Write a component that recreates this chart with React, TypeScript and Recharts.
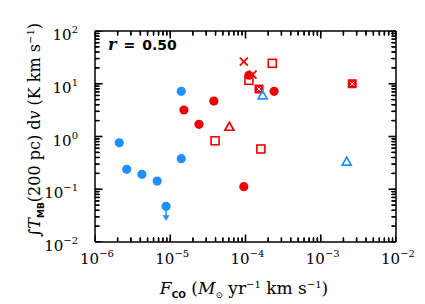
import { ScatterChart, Scatter, XAxis, YAxis } from 'recharts';

const RED = '#f00000';
const BLUE = '#1e90ff';
const SERIF = '"DejaVu Serif", serif';
const SANS = '"DejaVu Sans", sans-serif';

// values (log-log)
const blueCircleX = [2.1e-6, 2.64e-6, 4.2e-6, 6.7e-6, 1.4e-5, 1.4e-5];
const blueCircleY = [0.76, 0.239, 0.192, 0.143, 7.2, 0.38];
const blueLimitX = [8.8e-6];
const blueLimitY = [0.0475];
const redCircleX = [1.52e-5, 2.41e-5, 3.8e-5, 9.5e-5, 1.11e-4, 2.4e-4];
const redCircleY = [3.18, 1.7, 4.7, 0.112, 14.5, 7.2];
const redSquareX = [3.94e-5, 1.11e-4, 2.27e-4, 1.6e-4];
const redSquareY = [0.83, 11.6, 24.4, 0.58];
const redCrossX = [9.5e-5, 1.24e-4];
const redCrossY = [26.2, 14.9];
const redBoxX = [1.51e-4, 2.62e-3];
const redBoxY = [7.95, 10];
const redTriX = [6.1e-5];
const redTriY = [1.53];
const blueTriX = [1.69e-4, 2.21e-3];
const blueTriY = [6.0, 0.333];

const xMajor = [-6, -5, -4, -3, -2];
const yMajor = [-2, -1, 0, 1, 2];
const xDomain = [1e-6, 1e-2];
const yDomain = [1e-2, 1e2];

const zip = (xs: number[], ys: number[]) => xs.map((x, i) => ({ x, y: ys[i] }));

// major + minor (2..9) log ticks
const logTicks = (exps: number[]) => {
  const out: number[] = [];
  exps.forEach((e, i) => {
    out.push(Math.pow(10, e));
    if (i < exps.length - 1) for (let m = 2; m <= 9; m++) out.push(m * Math.pow(10, e));
  });
  return out;
};
const xTicks = logTicks(xMajor);
const yTicks = logTicks(yMajor);

const isMajor = (v: number) => Math.abs(Math.log10(v) - Math.round(Math.log10(v))) < 1e-6;
const expLabel = (v: number) => {
  const e = Math.round(Math.log10(v));
  return e < 0 ? '\u2212' + -e : String(e);
};

// tick marks drawn as scatter points sitting on the frame
const bottomMarks = xTicks.map((v) => ({ x: v, y: yDomain[0], major: isMajor(v), dir: 'up' }));
const topMarks = xTicks.map((v) => ({ x: v, y: yDomain[1], major: isMajor(v), dir: 'down' }));
const leftMarks = yTicks.map((v) => ({ x: xDomain[0], y: v, major: isMajor(v), dir: 'right' }));
const rightMarks = yTicks.map((v) => ({ x: xDomain[1], y: v, major: isMajor(v), dir: 'left' }));

const TickMark = (p: any) => {
  const d = p.payload ?? p;
  const len = d.major ? 7.5 : 4;
  const dx = d.dir === 'right' ? len : d.dir === 'left' ? -len : 0;
  const dy = d.dir === 'up' ? -len : d.dir === 'down' ? len : 0;
  return <line x1={p.cx} y1={p.cy} x2={p.cx + dx} y2={p.cy + dy} stroke="#000" strokeWidth={1.6} />;
};

function XLabel(props: any) {
  const x = Number(props.x);
  const y = Number(props.y);
  if (!isMajor(props.payload.value)) return <g />;
  return (
    <text x={x + 2} y={y + 22} textAnchor="middle" fontFamily={SERIF} fontSize={15} fill="#000">
      <tspan>10</tspan>
      <tspan dy={-7} fontSize={10}>{expLabel(props.payload.value)}</tspan>
    </text>
  );
}

function YLabel(props: any) {
  const x = Number(props.x);
  const y = Number(props.y);
  if (!isMajor(props.payload.value)) return <g />;
  return (
    <text x={x - 17} y={y + 9} textAnchor="end" fontFamily={SERIF} fontSize={15} fill="#000">
      <tspan>10</tspan>
      <tspan dy={-7} fontSize={10}>{expLabel(props.payload.value)}</tspan>
    </text>
  );
}

const Dot = (color: string) => (p: any) => <circle cx={p.cx} cy={p.cy} r={4.6} fill={color} />;

const LimitDot = (p: any) => (
  <g>
    <circle cx={p.cx} cy={p.cy} r={4.6} fill={BLUE} />
    <line x1={p.cx} y1={p.cy} x2={p.cx} y2={p.cy + 11} stroke={BLUE} strokeWidth={1.5} />
    <path d={`M${p.cx - 3.5},${p.cy + 9} L${p.cx + 3.5},${p.cy + 9} L${p.cx},${p.cy + 14.5} Z`} fill={BLUE} />
  </g>
);

const OpenSquare = (p: any) => (
  <rect x={p.cx - 4} y={p.cy - 4} width={8} height={8} fill="none" stroke={RED} strokeWidth={1.6} />
);

const Cross = (p: any) => (
  <path
    d={`M${p.cx - 4},${p.cy - 4} L${p.cx + 4},${p.cy + 4} M${p.cx - 4},${p.cy + 4} L${p.cx + 4},${p.cy - 4}`}
    stroke={RED}
    strokeWidth={1.8}
  />
);

const BoxedCross = (p: any) => (
  <g>
    <rect x={p.cx - 4.5} y={p.cy - 4.5} width={9} height={9} fill={RED} />
    <path
      d={`M${p.cx - 2},${p.cy - 2} L${p.cx + 2},${p.cy + 2} M${p.cx - 2},${p.cy + 2} L${p.cx + 2},${p.cy - 2}`}
      stroke="#fff"
      strokeWidth={1}
    />
  </g>
);

const Tri = (color: string) => (p: any) => (
  <path
    d={`M${p.cx},${p.cy - 4.5} L${p.cx + 4.5},${p.cy + 3.5} L${p.cx - 4.5},${p.cy + 3.5} Z`}
    fill="none"
    stroke={color}
    strokeWidth={1.7}
  />
);

const Hidden = () => <g />;

function Titles() {
  return (
    <g fill="#000">
      <text x={108} y={50} fontSize={14} fontWeight="bold" fontFamily={SANS}>
        <tspan fontFamily={SERIF} fontStyle="italic" fontSize={16}>r</tspan>
        <tspan dx={7}>=</tspan>
        <tspan dx={7}>0.50</tspan>
      </text>
      <text x={244} y={294} textAnchor="middle" fontFamily={SERIF} fontSize={17}>
        <tspan fontStyle="italic">F</tspan>
        <tspan dy={4} fontSize={9} fontFamily={SANS} fontWeight="bold">CO</tspan>
        <tspan dy={-4}> (</tspan>
        <tspan fontStyle="italic">M</tspan>
        <tspan dy={4} fontSize={9}>{'\u2299'}</tspan>
        <tspan dy={-4}> yr</tspan>
        <tspan dy={-6} fontSize={10}>{'\u22121'}</tspan>
        <tspan dy={6}> km s</tspan>
        <tspan dy={-6} fontSize={10}>{'\u22121'}</tspan>
        <tspan dy={6}>)</tspan>
      </text>
      <text transform="translate(40,130) rotate(-90)" textAnchor="middle" fontFamily={SERIF} fontSize={16}>
        <tspan>{'\u222B'}</tspan>
        <tspan fontStyle="italic">T</tspan>
        <tspan dy={4} fontSize={9} fontFamily={SANS} fontWeight="bold">MB</tspan>
        <tspan dy={-4}>(200 pc) d</tspan>
        <tspan fontStyle="italic">v</tspan>
        <tspan> (K km s</tspan>
        <tspan dy={-6} fontSize={10}>{'\u22121'}</tspan>
        <tspan dy={6}>)</tspan>
      </text>
    </g>
  );
}

export default function App() {
  const axisLine = { stroke: '#000', strokeWidth: 1.5 };
  const common = { xAxisId: 'b', yAxisId: 'l', dataKey: 'y', isAnimationActive: false } as const;
  // built-in tick lines pointing inward (negative size), margin cancels the shift for labels
  const axisCommon = {
    type: 'number',
    scale: 'log',
    allowDataOverflow: true,
    interval: 0,
    tickLine: { stroke: '#000', strokeWidth: 1 },
    tickSize: -5,
    tickMargin: 5,
    axisLine,
  } as const;
  return (
    <div style={{ position: 'absolute', left: 0, top: 0, background: '#fff' }}>
      <ScatterChart width={425} height={304} margin={{ top: 30, right: 28, bottom: 0, left: 0 }}>
        <XAxis {...axisCommon} xAxisId="b" dataKey="x" domain={xDomain} ticks={xTicks} height={62} tick={(p: any) => <XLabel {...p} />} />
        <XAxis {...axisCommon} xAxisId="t" orientation="top" dataKey="x" domain={xDomain} ticks={xTicks} height={1} tick={Hidden} />
        <YAxis {...axisCommon} yAxisId="l" dataKey="y" domain={yDomain} ticks={yTicks} width={95} tick={(p: any) => <YLabel {...p} />} />
        <YAxis {...axisCommon} yAxisId="r" orientation="right" dataKey="y" domain={yDomain} ticks={yTicks} width={1} tick={Hidden} />
        <Scatter xAxisId="t" yAxisId="r" dataKey="y" data={zip(redBoxX, redBoxY)} shape={Hidden} isAnimationActive={false} />
        <Scatter {...common} data={bottomMarks} shape={TickMark} />
        <Scatter {...common} data={topMarks} shape={TickMark} />
        <Scatter {...common} data={leftMarks} shape={TickMark} />
        <Scatter {...common} data={rightMarks} shape={TickMark} />
        <Scatter {...common} data={zip(blueCircleX, blueCircleY)} shape={Dot(BLUE)} />
        <Scatter {...common} data={zip(blueLimitX, blueLimitY)} shape={LimitDot} />
        <Scatter {...common} data={zip(redCircleX, redCircleY)} shape={Dot(RED)} />
        <Scatter {...common} data={zip(redSquareX, redSquareY)} shape={OpenSquare} />
        <Scatter {...common} data={zip(redCrossX, redCrossY)} shape={Cross} />
        <Scatter {...common} data={zip(redBoxX, redBoxY)} shape={BoxedCross} />
        <Scatter {...common} data={zip(redTriX, redTriY)} shape={Tri(RED)} />
        <Scatter {...common} data={zip(blueTriX, blueTriY)} shape={Tri(BLUE)} />
        <Titles />
      </ScatterChart>
    </div>
  );
}
